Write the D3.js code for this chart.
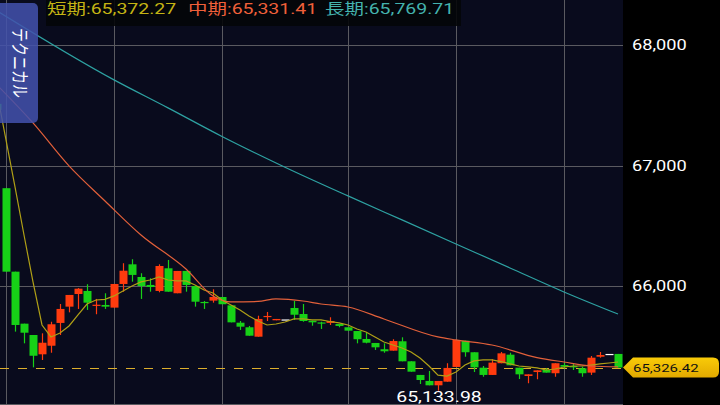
<!DOCTYPE html>
<html>
<head>
<meta charset="utf-8">
<script src="https://cdn.jsdelivr.net/npm/d3@7"></script>
<style>
    body { margin: 0; background: #000; }
    svg { display: block; font-family: Roboto, "Noto Sans CJK JP", sans-serif; }
</style>
</head>
<body>
<div id="chart"></div>
<script>

// candle data, index -1 .. 68 (first one is cut by the left edge)
const firstIndex = -1;
const opens  = [67512, 66813, 66121, 65690, 65596, 65436, 65507, 65696, 65831, 65936, 65961, 65839, 65845, 65823, 66019, 66182, 66077, 66011, 65961, 66149, 65942, 66127, 66002, 65870, 65881, 65911, 65842, 65698, 65660, 65582, 65745, 65718, 65725, 65820, 65770, 65715, 65700, 65696, 65687, 65660, 65629, 65563, 65530, 65478, 65466, 65544, 65378, 65265, 65215, 65179, 65209, 65331, 65549, 65453, 65325, 65265, 65362, 65433, 65325, 65256, 65289, 65308, 65279, 65347, 65339, 65320, 65284, 65416, 65439, 65439];
const highs  = [67512, 66813, 66121, 65690, 65596, 65610, 65706, 65853, 65928, 65985, 66017, 65895, 65942, 66019, 66191, 66224, 66108, 66066, 66182, 66218, 66127, 66127, 66002, 65878, 65975, 65911, 65842, 65712, 65671, 65756, 65787, 65729, 65725, 65878, 65853, 65715, 65706, 65743, 65687, 65660, 65629, 65615, 65530, 65527, 65561, 65577, 65378, 65265, 65298, 65215, 65362, 65555, 65549, 65453, 65339, 65395, 65455, 65449, 65325, 65270, 65303, 65320, 65362, 65364, 65356, 65333, 65422, 65455, 65439, 65439];
const lows   = [67462, 66121, 65624, 65527, 65328, 65389, 65449, 65596, 65784, 65812, 65804, 65768, 65812, 65823, 65955, 66038, 65895, 65955, 65950, 65955, 65942, 65955, 65831, 65812, 65864, 65851, 65701, 65638, 65590, 65582, 65712, 65718, 65725, 65721, 65706, 65673, 65646, 65679, 65660, 65632, 65527, 65527, 65472, 65449, 65466, 65378, 65292, 65190, 65179, 65133.98, 65209, 65331, 65416, 65289, 65250, 65265, 65362, 65345, 65231, 65196, 65229, 65284, 65250, 65318, 65306, 65250, 65265, 65408, 65439, 65326.42];
const closes = [67462, 66121, 65679, 65615, 65424, 65532, 65685, 65812, 65928, 65980, 65864, 65847, 65831, 66019, 66129, 66094, 66002, 65994, 66168, 65955, 66127, 66011, 65872, 65861, 65911, 65851, 65701, 65665, 65590, 65729, 65754, 65729, 65725, 65764, 65712, 65701, 65692, 65712, 65671, 65632, 65561, 65532, 65494, 65461, 65546, 65378, 65292, 65223, 65179, 65215, 65323, 65555, 65453, 65328, 65265, 65367, 65444, 65345, 65270, 65270, 65303, 65284, 65362, 65333, 65328, 65279, 65408, 65430, 65439, 65326.42];

// moving averages
const shortMA = [67603, 67213, 66823, 66425, 66036, 65679, 65580, 65613, 65671, 65762, 65853, 65886, 65891, 65920, 65961, 66002, 66036, 66052, 66077, 66052, 66044, 66044, 66011, 65969, 65944, 65886, 65845, 65803, 65754, 65712, 65679, 65687, 65704, 65729, 65729, 65721, 65721, 65708, 65696, 65679, 65646, 65621, 65579, 65538, 65513, 65488, 65455, 65405, 65339, 65264, 65256, 65289, 65347, 65381, 65389, 65389, 65376, 65356, 65339, 65331, 65323, 65306, 65314, 65331, 65339, 65339, 65347, 65356, 65364, 65372.27];
const midIdx = [-1, 3, 7, 11, 15, 20, 23, 25, 28, 30, 33, 35, 38, 42, 48, 50, 54, 59, 62, 65, 68];
const midMA  = [67669, 67354, 66998, 66707, 66425, 66143, 65920, 65870, 65874, 65895, 65878, 65853, 65828, 65729, 65580, 65555, 65513, 65409, 65372, 65339, 65331.41];
const longIdx = [-1, 12, 18, 24, 31, 38, 44, 50, 56, 62, 68];
const longMA  = [68283, 67711, 67479, 67242, 66987, 66749, 66550, 66351, 66152, 65953, 65769.71];

const legendNames = ["短期", "中期", "長期"];
const legendValues = [65372.27, 65331.41, 65769.71];
const yTicks = [66000, 67000, 68000];
const gridIdx = [0, 12, 24, 38, 50, 62];
const lastPrice = 65326.42;
const tabLabel = "テクニカル";

const sx = 1.3;   // screenshot text is wide

class CandleVis {

    constructor(parentElement) {
        this.parentElement = parentElement;
        this.initVis()
    }

    initVis() {
        let vis = this;

        vis.width = 720;
        vis.height = 405;
        vis.plotW = 623;
        vis.plotH = 404;

        vis.svg = d3.select("#" + vis.parentElement).append("svg")
            .attr("width", vis.width)
            .attr("height", vis.height);

        vis.svg.append("rect")
            .attr("width", vis.width)
            .attr("height", vis.height)
            .attr("fill", "#000");

        vis.svg.append("rect")
            .attr("width", vis.plotW)
            .attr("height", vis.plotH)
            .attr("fill", "#090b1d");

        vis.svg.append("clipPath").attr("id", "plotClip")
            .append("rect")
            .attr("width", vis.plotW)
            .attr("height", vis.plotH);

        vis.x = d3.scaleLinear().domain([0, 68]).range([6, 618]);
        vis.y = d3.scaleLinear().domain([65000, 68000]).range([406.9, 45]);

        vis.plot = vis.svg.append("g").attr("clip-path", "url(#plotClip)");

        vis.updateVis()
    }

    txt(g, x, y, str, size, color, anchor) {
        return g.append("text")
            .attr("transform", `translate(${x},${y}) scale(${sx},1)`)
            .attr("text-anchor", anchor || "start")
            .style("font-size", size + "px")
            .attr("fill", color)
            .text(str);
    }

    updateVis() {
        let vis = this;
        let x = vis.x, y = vis.y;

        // grid
        vis.plot.selectAll(".hgrid")
            .data(yTicks)
            .enter().append("line")
            .attr("class", "hgrid")
            .attr("x1", 0).attr("x2", vis.plotW)
            .attr("y1", d => Math.round(y(d)) + 0.5)
            .attr("y2", d => Math.round(y(d)) + 0.5)
            .attr("stroke", "#5a5a60");

        vis.plot.selectAll(".vgrid")
            .data(gridIdx)
            .enter().append("line")
            .attr("class", "vgrid")
            .attr("x1", d => Math.round(x(d)) + 0.5)
            .attr("x2", d => Math.round(x(d)) + 0.5)
            .attr("y1", 0).attr("y2", vis.plotH)
            .attr("stroke", "#5a5a60");

        vis.svg.append("line")
            .attr("x1", 0).attr("x2", vis.plotW)
            .attr("y1", vis.plotH + 0.5).attr("y2", vis.plotH + 0.5)
            .attr("stroke", "#5a5a60");

        // current price dashed line
        let py = Math.round(y(lastPrice)) + 0.5;
        vis.plot.append("line")
            .attr("x1", 0).attr("x2", vis.plotW)
            .attr("y1", py).attr("y2", py)
            .attr("stroke", "#dcae2c")
            .attr("stroke-width", 1)
            .attr("stroke-dasharray", "9,9");

        // candles
        let candles = opens.map((o, i) => ({
            i: i + firstIndex, o: o, h: highs[i], l: lows[i], c: closes[i]
        }));
        let colorOf = d => d.c > d.o ? "#ff3b0e" : (d.c < d.o ? "#17d117" : "#ffffff");

        let cg = vis.plot.selectAll(".candle")
            .data(candles)
            .enter().append("g")
            .attr("class", "candle");

        cg.append("line")
            .attr("x1", d => Math.round(x(d.i)) + 0.5)
            .attr("x2", d => Math.round(x(d.i)) + 0.5)
            .attr("y1", d => y(d.h))
            .attr("y2", d => y(d.l))
            .attr("stroke", colorOf)
            .attr("stroke-width", 1.2);

        cg.append("rect")
            .attr("x", d => Math.round(x(d.i)) - 3.5)
            .attr("width", 8)
            .attr("y", d => y(Math.max(d.o, d.c)))
            .attr("height", d => Math.max(1.2, y(Math.min(d.o, d.c)) - y(Math.max(d.o, d.c))))
            .attr("fill", colorOf);

        // moving averages
        let shortLine = d3.line()
            .x((d, i) => x(i + firstIndex))
            .y(d => y(d));
        vis.plot.append("path")
            .datum(shortMA)
            .attr("d", shortLine)
            .attr("fill", "none")
            .attr("stroke", "#b0a016")
            .attr("stroke-width", 1.2);

        let idxLine = idx => d3.line()
            .x((d, i) => x(idx[i]))
            .y(d => y(d))
            .curve(d3.curveMonotoneX);

        vis.plot.append("path")
            .datum(midMA)
            .attr("d", idxLine(midIdx))
            .attr("fill", "none")
            .attr("stroke", "#e2603a")
            .attr("stroke-width", 1.2);

        vis.plot.append("path")
            .datum(longMA)
            .attr("d", idxLine(longIdx))
            .attr("fill", "none")
            .attr("stroke", "#2ea2a2")
            .attr("stroke-width", 1.2);

        // low marker
        let lowIdx = d3.minIndex(lows);
        vis.txt(vis.svg, x(lowIdx + firstIndex) + 1, 402, d3.format(",.2f")(lows[lowIdx]), 15, "#ffffff", "middle");

        // right axis
        vis.axis = d3.axisRight(y)
            .tickValues(yTicks)
            .tickSize(0)
            .tickFormat(d3.format(","));

        vis.axisGroup = vis.svg.append("g")
            .attr("class", "axis")
            .attr("transform", `translate(632,0)`)
            .call(vis.axis);

        vis.axisGroup.select(".domain").remove();
        vis.axisGroup.selectAll("text")
            .attr("x", 0)
            .attr("transform", `scale(${sx},1)`)
            .attr("fill", "#ffffff")
            .style("font-size", "14px")
            .style("font-family", "Roboto, sans-serif");

        // price tag
        let ty = y(lastPrice);
        let grad = vis.svg.append("defs").append("linearGradient")
            .attr("id", "tagGrad")
            .attr("x1", "0%").attr("y1", "0%")
            .attr("x2", "0%").attr("y2", "100%");
        grad.append("stop").attr("offset", "0%").style("stop-color", "#f9cb08");
        grad.append("stop").attr("offset", "100%").style("stop-color", "#e2a900");

        let p = d3.path();
        p.moveTo(623, ty);
        p.lineTo(633, ty - 10);
        p.lineTo(713, ty - 10);
        p.quadraticCurveTo(719, ty - 10, 719, ty - 4);
        p.lineTo(719, ty + 4);
        p.quadraticCurveTo(719, ty + 10, 713, ty + 10);
        p.lineTo(633, ty + 10);
        p.closePath();

        vis.svg.append("path")
            .attr("d", p.toString())
            .attr("fill", "url(#tagGrad)");

        vis.txt(vis.svg, 633, ty + 4, d3.format(",.2f")(lastPrice), 11.5, "#111111");

        // legend
        let legendColors = ["#c4b414", "#f0603a", "#44b3ae"];
        let legendX = [47, 188, 325];
        vis.svg.append("rect")
            .attr("x", 46).attr("y", 0)
            .attr("width", 415).attr("height", 26)
            .attr("fill", "#040509")
            .attr("opacity", 0.9);

        legendNames.forEach((n, i) => {
            vis.txt(vis.svg, legendX[i], 13.5, n + ":" + d3.format(",.2f")(legendValues[i]), 15, legendColors[i]);
        });

        // side tab
        vis.svg.append("rect")
            .attr("x", -8).attr("y", 3)
            .attr("width", 46).attr("height", 120)
            .attr("rx", 5)
            .attr("fill", "rgba(66,82,172,0.86)");

        vis.svg.append("text")
            .attr("transform", `translate(19,63) scale(${sx},1) rotate(90)`)
            .attr("text-anchor", "middle")
            .attr("dominant-baseline", "central")
            .style("font-size", "14px")
            .attr("fill", "#ffffff")
            .text(tabLabel);
    }
}

let myCandleVis = new CandleVis("chart");

</script>
</body>
</html>
